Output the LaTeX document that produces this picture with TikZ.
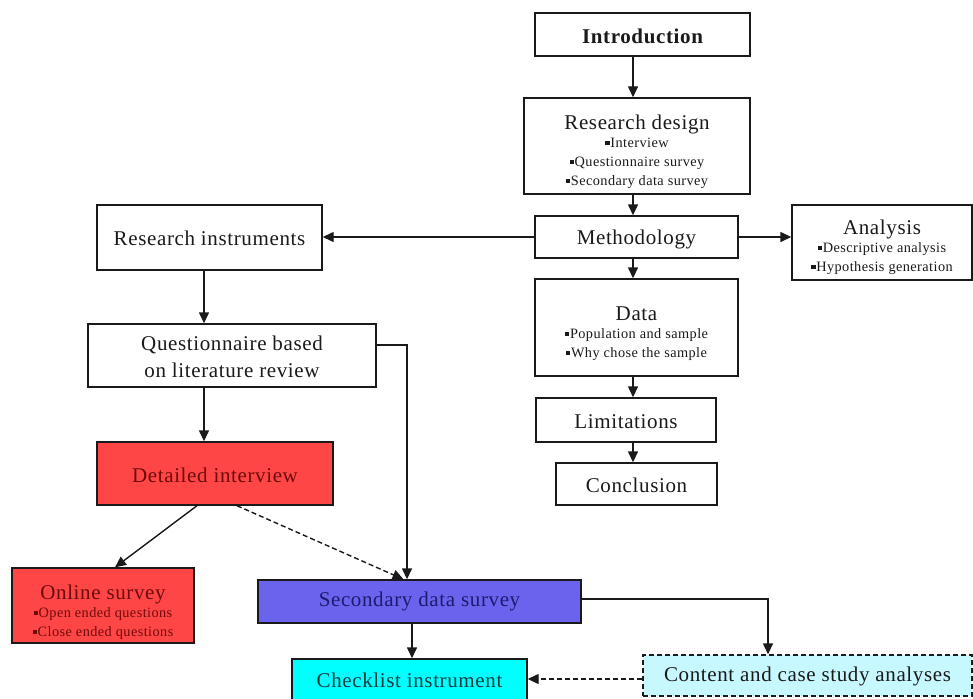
\documentclass[tikz,border=0pt]{standalone}
\usepackage{fontspec}
\setmainfont{Liberation Serif}
\newfontfamily\headfont[LetterSpace=3]{Liberation Serif}
\usetikzlibrary{arrows.meta}

\definecolor{ink}{HTML}{1A1A1A}
\definecolor{boxred}{HTML}{FF4646}
\definecolor{boxblue}{HTML}{6B63EE}
\definecolor{boxcyan}{HTML}{00FFFF}
\definecolor{boxpale}{HTML}{C8F8FF}
\definecolor{txtred}{HTML}{6E0A0A}
\definecolor{txtblue}{HTML}{1C1C6E}
\definecolor{txtteal}{HTML}{0C3C3C}

% small square bullet in front of list items
\newcommand\sqbul{\rule[0.2em]{0.3em}{0.3em}\hspace{0.05em}}
\newcommand\headtext{\headfont\fontsize{21}{27}\selectfont}
\newcommand\listtext{\fontsize{14.3}{19}\selectfont}
% move a label down inside its box without changing the box
\newcommand\sitlower[2]{\raisebox{-#1}[\height][\depth]{#2}}
% a heading with a short bullet list below it
\newcommand\headlist[2]{%
  \begin{tabular}{@{}c@{}}#1\\[-3pt]
    {\listtext\begin{tabular}{@{}c@{}}#2\end{tabular}}%
  \end{tabular}}
\newcommand\twolines[2]{\begin{tabular}{@{}c@{}}#1\\#2\end{tabular}}

\tikzset{
  stepbox/.style={draw=ink, line width=1.4pt, inner sep=0pt,
                  text=ink, font=\headtext},
  arr/.style={draw=ink, line width=1.4pt, -{Triangle[length=11pt,width=10pt]}},
  dashlink/.style={arr, dash pattern=on 5pt off 3pt},
}

\begin{document}
\begin{tikzpicture}[x=1pt,y=-1pt]
\useasboundingbox (0,0) rectangle (973,698);

% main column
\node[stepbox, minimum width=215pt, minimum height=43pt] (intro) at (642.5,34.5)
  {\sitlower{2pt}{\bfseries Introduction}};
\node[stepbox, minimum width=226pt, minimum height=96pt] (design) at (637,146)
  {\sitlower{5pt}{\headlist{Research design}{\sqbul Interview\\ \sqbul Questionnaire survey\\ \sqbul Secondary data survey}}};
\node[stepbox, minimum width=203pt, minimum height=42pt] (meth) at (636.5,237)
  {\sitlower{2pt}{Methodology}};
\node[stepbox, minimum width=180pt, minimum height=75pt] (analysis) at (882,242.5)
  {\sitlower{4pt}{\headlist{Analysis}{\sqbul Descriptive analysis\\ \sqbul Hypothesis generation}}};
\node[stepbox, minimum width=203pt, minimum height=97pt] (data) at (636.5,327.5)
  {\sitlower{5pt}{\headlist{Data}{\sqbul Population and sample\\ \sqbul Why chose the sample}}};
\node[stepbox, minimum width=180pt, minimum height=44pt] (limits) at (626,420)
  {\sitlower{2pt}{Limitations}};
\node[stepbox, minimum width=161pt, minimum height=42pt] (concl) at (636.5,484)
  {\sitlower{1pt}{Conclusion}};

% instruments branch
\node[stepbox, minimum width=225pt, minimum height=65pt] (instr) at (209.5,237.5)
  {\sitlower{1pt}{Research instruments}};
\node[stepbox, minimum width=288pt, minimum height=63pt] (quest) at (232,355.5)
  {\sitlower{3pt}{\twolines{Questionnaire based}{on literature review}}};
\node[stepbox, fill=boxred, text=txtred, minimum width=236pt, minimum height=63pt]
  (interview) at (215,473.5) {\sitlower{2pt}{Detailed interview}};
\node[stepbox, fill=boxred, text=txtred, minimum width=182pt, minimum height=75pt]
  (online) at (103,605.5)
  {\sitlower{6pt}{\headlist{Online survey}{\sqbul Open ended questions\\ \sqbul Close ended questions}}};
\node[stepbox, fill=boxblue, text=txtblue, minimum width=323pt, minimum height=43pt]
  (secondary) at (419.5,601.5) {Secondary data survey};
\node[stepbox, fill=boxcyan, text=txtteal, minimum width=235pt, minimum height=42pt]
  (check) at (409.5,680) {Checklist instrument};
\node[stepbox, fill=boxpale, dash pattern=on 5pt off 3pt, minimum width=329pt,
  minimum height=41pt] (content) at (807.5,675.5) {\sitlower{1pt}{Content and case study analyses}};

% guide positions for the connectors
\coordinate (spine) at (633,0);
\coordinate (leftcol) at (204,0);
\coordinate (questcol) at (407,0);
\coordinate (questrow) at (0,345);
\coordinate (checkcol) at (412,0);
\coordinate (secrow) at (0,599);
\coordinate (contentcol) at (768,0);
\coordinate (backrow) at (0,679);

% main column connectors
\draw[arr] (intro.south -| spine) -- (design.north -| spine);
\draw[arr] (design.south -| spine) -- (meth.north -| spine);
\draw[arr] (meth.south -| spine) -- (data.north -| spine);
\draw[arr] (data.south -| spine) -- (limits.north -| spine);
\draw[arr] (limits.south -| spine) -- (concl.north -| spine);
\draw[arr] (meth.west) -- (instr.east |- meth.west);
\draw[arr] (meth.east) -- (analysis.west |- meth.east);

% instruments branch connectors
\draw[arr] (instr.south -| leftcol) -- (quest.north -| leftcol);
\draw[arr] (quest.south -| leftcol) -- (interview.north -| leftcol);
\draw[arr] (quest.east |- questrow) -- (questcol |- questrow) -- (secondary.north -| questcol);
\draw[arr] ([xshift=-18pt]interview.south) -- ([xshift=12pt]online.north);
\draw[dashlink] ([xshift=22pt]interview.south) -- ([xshift=-16pt]secondary.north);
\draw[arr] (secondary.south -| checkcol) -- (check.north -| checkcol);
\draw[arr] (secondary.east |- secrow) -- (contentcol |- secrow) -- (content.north -| contentcol);
\draw[dashlink] (content.west |- backrow) -- (check.east |- backrow);
\end{tikzpicture}
\end{document}
